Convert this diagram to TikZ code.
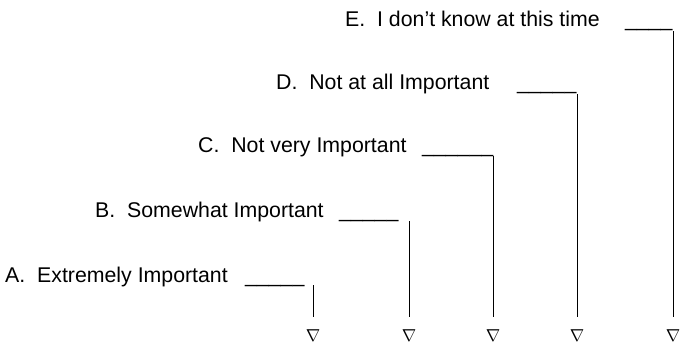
\documentclass[tikz,border=0pt]{standalone}
\usepackage{fontspec}
\setmainfont{Liberation Sans}
\begin{document}
\begin{tikzpicture}[x=1pt,y=-1pt,
  opt/.style={font=\fontsize{21.3}{25}\selectfont,anchor=base west,inner sep=0pt},
  blank/.style={opt},
  tri/.style={font=\fontsize{18}{20}\selectfont,anchor=north,inner sep=0pt},
  drop/.style={line width=0.8pt,shorten >=12pt}]
\useasboundingbox (0,0) rectangle (688,343);

% answer choices with their blanks
\node[opt] (optA) at (5,282) {A.\ \ Extremely Important};
\node[blank] (blankA) at (245,282) {\_\_\_\_\_};
\node[opt] (optB) at (95,217) {B.\ \ Somewhat Important};
\node[blank] (blankB) at (339,217) {\_\_\_\_\_};
\node[opt] (optC) at (198,152) {C.\ \ Not very Important};
\node[blank] (blankC) at (422,152) {\_\_\_\_\_\_};
\node[opt] (optD) at (276,89) {D.\ \ Not at all Important};
\node[blank] (blankD) at (517,89) {\_\_\_\_\_};
\node[opt] (optE) at (345,26) {E.\ \ I don’t know at this time};
\node[blank] (blankE) at (625,26) {\_\_\_\_};

% tops of the drop lines
\coordinate (topA) at (313,285);
\coordinate (topB) at (409,221);
\coordinate (topC) at (493,156);
\coordinate (topD) at (577,94);
\coordinate (topE) at (673,31);

% markers along the bottom
\node[tri] (triA) at (313,329) {$\nabla$};
\node[tri] (triB) at (409,329) {$\nabla$};
\node[tri] (triC) at (493,329) {$\nabla$};
\node[tri] (triD) at (577,329) {$\nabla$};
\node[tri] (triE) at (673,329) {$\nabla$};

\foreach \k in {A,B,C,D,E}
  \draw[drop] (top\k) -- (tri\k.north);
\end{tikzpicture}
\end{document}
